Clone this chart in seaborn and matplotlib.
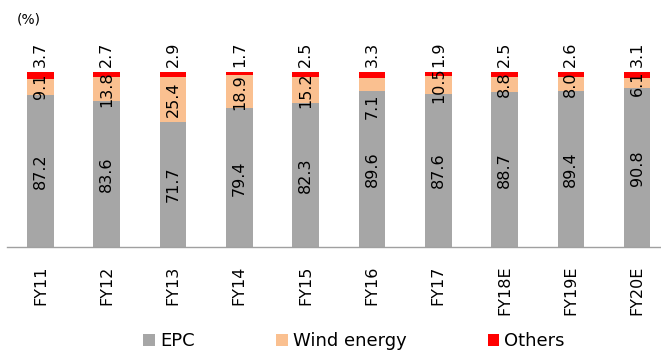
import matplotlib
matplotlib.use("Agg")
import matplotlib.pyplot as plt
import seaborn as sns
import pandas as pd
import numpy as np
from matplotlib.patches import Patch

categories = ["FY11", "FY12", "FY13", "FY14", "FY15", "FY16", "FY17", "FY18E", "FY19E", "FY20E"]
epc = [87.2, 83.6, 71.7, 79.4, 82.3, 89.6, 87.6, 88.7, 89.4, 90.8]
wind = [9.1, 13.8, 25.4, 18.9, 15.2, 7.1, 10.5, 8.8, 8.0, 6.1]
others = [3.7, 2.7, 2.9, 1.7, 2.5, 3.3, 1.9, 2.5, 2.6, 3.1]
series_names = ["EPC", "Wind energy", "Others"]
colors = ["#A6A6A6", "#FAC090", "#FF0000"]

sns.set_style("white")
plt.rcParams["font.family"] = ["DejaVu Sans"]
plt.rcParams["text.color"] = "black"
plt.rcParams["xtick.color"] = "black"

df = pd.DataFrame({"cat": categories, "EPC": epc, "Wind energy": wind, "Others": others})

W, H = 661, 350
fig = plt.figure(figsize=(W / 100, H / 100), dpi=100)
x0, x1 = 7.3, 670.3
y0, y1 = 247.3, 72.3
ax = fig.add_axes([x0 / W, 1 - y0 / H, (x1 - x0) / W, (y0 - y1) / H])

bottom = np.zeros(len(categories))
for name, col in zip(series_names, colors):
    vals = df[name].to_numpy()
    sns.barplot(data=df, x="cat", y=name, order=categories, color=col,
                width=0.4, bottom=bottom, ax=ax, saturation=1, edgecolor="none")
    bottom = bottom + vals

ax.set_xlim(-0.5, len(categories) - 0.5)
ax.set_ylim(0, 100)
ax.set_xlabel("")
ax.set_ylabel("")
ax.set_yticks([])
for s in ["top", "right", "left"]:
    ax.spines[s].set_visible(False)
ax.spines["bottom"].set_color("#A0A0A0")
ax.spines["bottom"].set_linewidth(1.0)

fs = 11.5
ax.set_xticks(range(len(categories)))
ax.set_xticklabels(categories, rotation=90, fontsize=fs, va="top", color="black")
ax.tick_params(axis="x", which="major", length=0, pad=13)
ax.set_xticks(np.arange(-0.5, len(categories), 1.0), minor=True)
ax.tick_params(axis="x", which="minor", length=4.5, color="#A0A0A0", width=1.0, direction="out")

# nudge for the one wind label that sits below its segment in the original
wind_label_shift = {"FY16": -12.5}

for i, cat in enumerate(categories):
    e, w_, o = epc[i], wind[i], others[i]
    ax.text(i, e / 2, f"{e:.1f}", rotation=90, ha="center", va="center", fontsize=fs, color="black")
    ax.text(i, e + w_ / 2 + wind_label_shift.get(cat, 0), f"{w_:.1f}", rotation=90,
            ha="center", va="center", fontsize=fs, color="black")
    ax.text(i, e + w_ + o + 3.0, f"{o:.1f}", rotation=90, ha="center", va="bottom",
            fontsize=fs, clip_on=False, color="black")

fig.text(17 / W, 1 - 19.5 / H, "(%)", fontsize=10, ha="left", va="center", color="black")

handles = [Patch(facecolor=c, edgecolor="none") for c in colors]
fig.legend(handles, series_names, loc="center", bbox_to_anchor=(354 / W, 1 - 341 / H),
           ncol=3, frameon=False, fontsize=13, handlelength=0.65, handleheight=0.65,
           handletextpad=0.28, columnspacing=4.5, borderpad=0, labelcolor="black")

fig.savefig("out.png", dpi=100)
